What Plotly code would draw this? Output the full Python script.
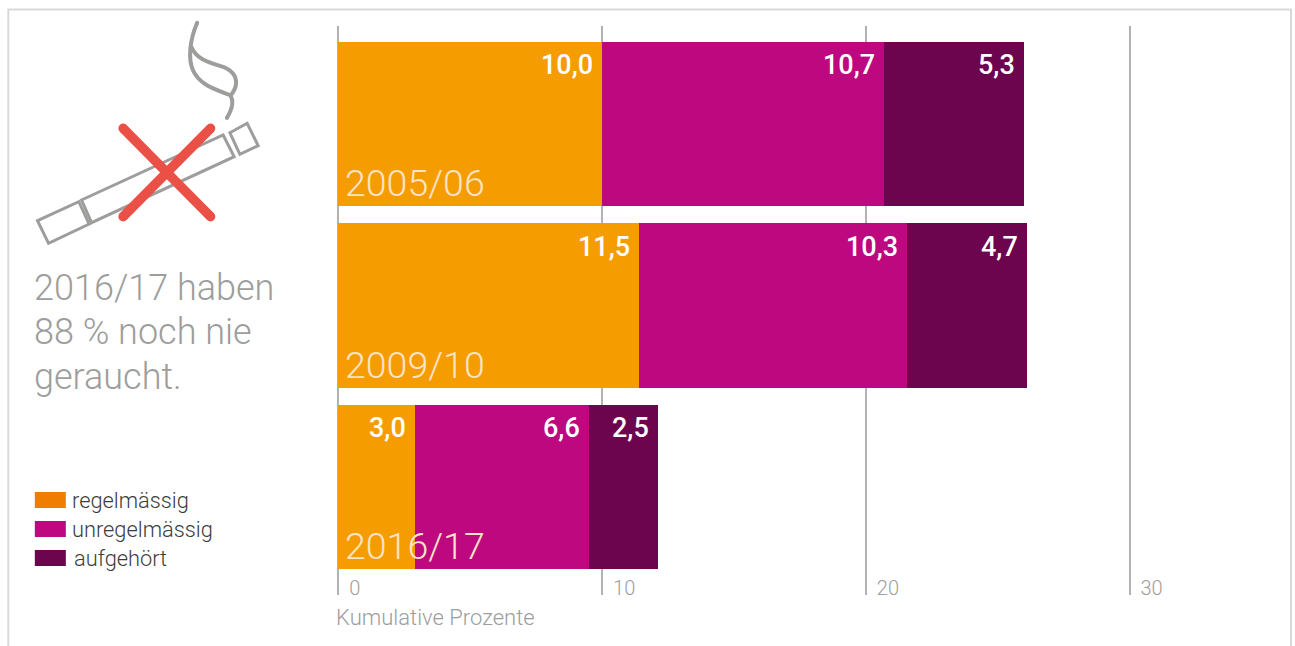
import plotly.graph_objects as go

years = ["2005/06", "2009/10", "2016/17"]
regelmaessig = [10.0, 11.4, 2.9]
unregelmaessig = [10.7, 10.15, 6.6]
aufgehoert = [5.3, 4.55, 2.62]
labels_regel = ["10,0", "11,5", "3,0"]
labels_unregel = ["10,7", "10,3", "6,6"]
labels_auf = ["5,3", "4,7", "2,5"]
series_names = ["regelmässig", "unregelmässig", "aufgehört"]
bar_colors = ["#f59c00", "#be087f", "#6c054e"]
legend_colors = ["#f07d00", "#be087f", "#6c054e"]
tick_vals = [0, 10, 20, 30]
headline = ["2016/17 haben", "88 % noch nie", "geraucht."]
axis_title = "Kumulative Prozente"

W, H = 1295, 646
UNIT = 26.37
X_MIN, X_MAX = -1, 34
L, R = 338.5 - UNIT, 1129.5 + 4 * UNIT
T, B = 26, 595
FONT = "Roboto"
GREY = "#9d9d9c"


def px(x):
    return (x - L) / (R - L)


def py(y):
    return 1 - (y - T) / (B - T)


fig = go.Figure()
for name, vals, col in zip(series_names, [regelmaessig, unregelmaessig, aufgehoert], bar_colors):
    fig.add_bar(y=years, x=vals, name=name, orientation="h", marker=dict(color=col, line_width=0), showlegend=False)

shapes = []
annotations = []


def line_path(points, color, width, close=False):
    d = "M" + " L".join(f"{px(x)},{py(y)}" for x, y in points) + (" Z" if close else "")
    shapes.append(dict(type="path", path=d, xref="paper", yref="paper", line=dict(color=color, width=width)))


def curve(points, color, width):
    d = f"M{px(points[0][0])},{py(points[0][1])}"
    for i in range(1, len(points), 3):
        a, b, c = points[i:i + 3]
        d += f" C{px(a[0])},{py(a[1])} {px(b[0])},{py(b[1])} {px(c[0])},{py(c[1])}"
    shapes.append(dict(type="path", path=d, xref="paper", yref="paper", line=dict(color=color, width=width)))


def dot(x, y, d, color):
    shapes.append(dict(type="circle", xref="paper", yref="paper", x0=px(x - d / 2), x1=px(x + d / 2),
                       y0=py(y + d / 2), y1=py(y - d / 2), fillcolor=color, line_width=0))


def text(x, y, s, size, color, family=FONT, weight=None):
    annotations.append(dict(xref="paper", yref="paper", x=px(x), y=py(y), text=s, showarrow=False, xanchor="left",
                            yanchor="middle", align="left", borderpad=0,
                            font=dict(family=family, size=size, color=color, **({"weight": weight} if weight else {}))))


# frame
line_path([(8.5, 650), (8.5, 9.5), (1291, 9.5), (1291, 650)], "#d9d9d9", 2)

# cigarette icon
g = "#9d9d9c"
line_path([(37.7, 220.7), (79, 201.7), (89.3, 224), (48.7, 243.3)], g, 3, True)
line_path([(81.7, 200), (223.3, 135), (234.3, 156.7), (91.7, 222.7)], g, 3, True)
line_path([(230, 132.7), (247.3, 123.3), (258.3, 145.7), (240, 154.3)], g, 3, True)
curve([(197.3, 22.7), (190, 40), (188, 58), (193, 70), (200, 86), (218, 90), (230, 95), (234, 100), (233, 108), (227, 118)], g, 4)
curve([(191.5, 46.7), (196, 60), (212, 63), (226, 68), (240, 75), (238, 88), (230, 96)], g, 4)
dot(197.3, 22.7, 4, g)
dot(227, 118, 4, g)
line_path([(123.3, 128.3), (210.7, 216.7)], "#ea5045", 9.5)
line_path([(210.7, 128.3), (123.3, 216.7)], "#ea5045", 9.5)
for cx, cy in [(123.3, 128.3), (210.7, 216.7), (210.7, 128.3), (123.3, 216.7)]:
    dot(cx, cy, 9.5, "#ea5045")

# legend
for i, (nm, col) in enumerate(zip(series_names, legend_colors)):
    y0 = 492 + 29 * i
    shapes.append(dict(type="rect", xref="paper", yref="paper", x0=px(35), x1=px(66), y0=py(y0 + 16), y1=py(y0),
                       fillcolor=col, line_width=0))
    text(73 if i == 2 else 71, y0 + 8, nm, 21.8, "#3c3c3b", weight=300)

# headline
for s, y in zip(headline, [288, 332, 377]):
    text(33, y, s, 36, GREY, weight=300)

# axis title
text(335, 617, axis_title, 22, GREY, weight=300)

# value labels and year labels through the data scales
cum1 = regelmaessig
cum2 = [a + b for a, b in zip(regelmaessig, unregelmaessig)]
cum3 = [a + b for a, b in zip(cum2, aufgehoert)]
for j, yr in enumerate(years):
    for xv, lab in zip((cum1[j], cum2[j], cum3[j]), (labels_regel[j], labels_unregel[j], labels_auf[j])):
        annotations.append(dict(x=xv, y=yr, text=lab, showarrow=False, xanchor="right", yanchor="middle",
                                xshift=-8, yshift=59, borderpad=0,
                                font=dict(family=FONT, size=27, color="white", weight=500)))
    annotations.append(dict(x=0, y=yr, text=yr, showarrow=False, xanchor="left", yanchor="middle", xshift=6, yshift=-59,
                            borderpad=0, font=dict(family=FONT, size=37.5, color="#fbe3c8", weight=300)))

fig.update_layout(
    width=W, height=H, barmode="stack", bargap=0.096, hovermode=False,
    margin=dict(l=L, r=W - R, t=T, b=H - B, pad=0, autoexpand=False),
    plot_bgcolor="white", paper_bgcolor="white",
    shapes=shapes, annotations=annotations,
    xaxis=dict(range=[X_MIN, X_MAX], tickvals=tick_vals, showgrid=True, gridcolor="#b2b2b2", gridwidth=1.5,
               zeroline=False, showline=False, ticks="", ticklabelposition="inside right", ticklabelshift=11,
               ticklabelstandoff=-10, tickfont=dict(family=FONT, size=20, color=GREY, weight=300)),
    yaxis=dict(range=[2.595, -0.54], showticklabels=False, showgrid=False, zeroline=False, ticks="", showline=False,
               categoryorder="array", categoryarray=years),
)
fig.write_html(
    "out.html",
    config={"displayModeBar": False},
    post_script="document.body.style.margin='0';document.documentElement.style.overflow='hidden';",
)
